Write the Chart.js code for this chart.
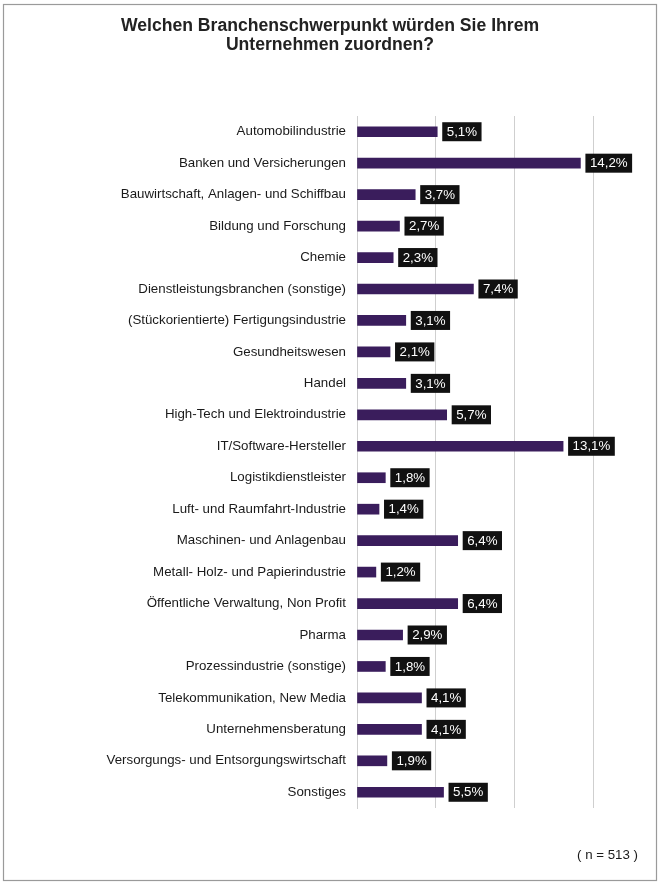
<!DOCTYPE html>
<html>
<head>
<meta charset="utf-8">
<script src="https://cdn.jsdelivr.net/npm/chart.js@4"></script>
<style>
  html, body { margin: 0; padding: 0; background: #fff; }
  #wrap { width: 661px; height: 885px; position: relative; }
</style>
</head>
<body>
<div id="wrap"><canvas id="chart"></canvas></div>
<script>
// Branchen und Anteile (%)
const branchen = [
  'Automobilindustrie',
  'Banken und Versicherungen',
  'Bauwirtschaft, Anlagen- und Schiffbau',
  'Bildung und Forschung',
  'Chemie',
  'Dienstleistungsbranchen (sonstige)',
  '(Stückorientierte) Fertigungsindustrie',
  'Gesundheitswesen',
  'Handel',
  'High-Tech und Elektroindustrie',
  'IT/Software-Hersteller',
  'Logistikdienstleister',
  'Luft- und Raumfahrt-Industrie',
  'Maschinen- und Anlagenbau',
  'Metall- Holz- und Papierindustrie',
  'Öffentliche Verwaltung, Non Profit',
  'Pharma',
  'Prozessindustrie (sonstige)',
  'Telekommunikation, New Media',
  'Unternehmensberatung',
  'Versorgungs- und Entsorgungswirtschaft',
  'Sonstiges'
];
const anteile = [5.1, 14.2, 3.7, 2.7, 2.3, 7.4, 3.1, 2.1, 3.1, 5.7, 13.1, 1.8, 1.4, 6.4, 1.2, 6.4, 2.9, 1.8, 4.1, 4.1, 1.9, 5.5];
const titelZeilen = ['Welchen Branchenschwerpunkt würden Sie Ihrem', 'Unternehmen zuordnen?'];
const fussnote = '( n = 513 )';

const FONT = "'Liberation Sans', Arial, sans-serif";

// Titel, schwarze Wertelabels, Rahmen und Fußnote
const extrasPlugin = {
  id: 'extras',
  afterDatasetsDraw(chart) {
    const { ctx } = chart;
    const meta = chart.getDatasetMeta(0);
    ctx.save();
    ctx.font = '13.3px ' + FONT;
    ctx.textBaseline = 'middle';
    meta.data.forEach((bar, i) => {
      const txt = anteile[i].toFixed(1).replace('.', ',') + '%';
      const w = ctx.measureText(txt).width + 9;
      const x = bar.x + 5;
      ctx.fillStyle = '#111111';
      ctx.fillRect(x, bar.y - 9.5, w, 19);
      ctx.fillStyle = '#ffffff';
      ctx.textAlign = 'left';
      ctx.fillText(txt, x + 4.5, bar.y + 0.5);
    });
    ctx.restore();
  },
  afterDraw(chart) {
    const { ctx } = chart;
    ctx.save();
    ctx.strokeStyle = '#9a9a9a';
    ctx.lineWidth = 1.2;
    ctx.strokeRect(3.5, 4.5, 653, 876);

    ctx.fillStyle = '#222222';
    ctx.font = 'bold 17.6px ' + FONT;
    ctx.textAlign = 'center';
    ctx.textBaseline = 'middle';
    titelZeilen.forEach((t, i) => ctx.fillText(t, 330, 26 + i * 19.5));

    ctx.fillStyle = '#1a1a1a';
    ctx.font = '13.3px ' + FONT;
    ctx.textAlign = 'right';
    ctx.fillText(fussnote, 638, 855);
    ctx.restore();
  }
};

new Chart(document.getElementById('chart'), {
  type: 'bar',
  data: {
    labels: branchen,
    datasets: [{
      data: anteile,
      backgroundColor: '#3a1d5c',
      barThickness: 10
    }]
  },
  options: {
    indexAxis: 'y',
    responsive: true,
    maintainAspectRatio: false,
    animation: false,
    layout: { padding: { top: 116, right: 68, bottom: 77, left: 0 } },
    plugins: {
      legend: { display: false },
      tooltip: { enabled: false },
      title: { display: false }
    },
    scales: {
      x: {
        min: 0,
        max: 15,
        ticks: { display: false, stepSize: 5 },
        grid: { color: '#cfcfcf', drawTicks: false, lineWidth: 1 },
        border: { display: false },
        afterFit(scale) { scale.height = 0; }
      },
      y: {
        grid: { display: false, drawTicks: false },
        border: { display: true, color: '#cfcfcf' },
        ticks: {
          color: '#1a1a1a',
          padding: 11,
          font: { family: FONT, size: 13.3 }
        },
        afterFit(scale) { scale.width = 357; }
      }
    }
  },
  plugins: [extrasPlugin]
});
</script>
</body>
</html>
